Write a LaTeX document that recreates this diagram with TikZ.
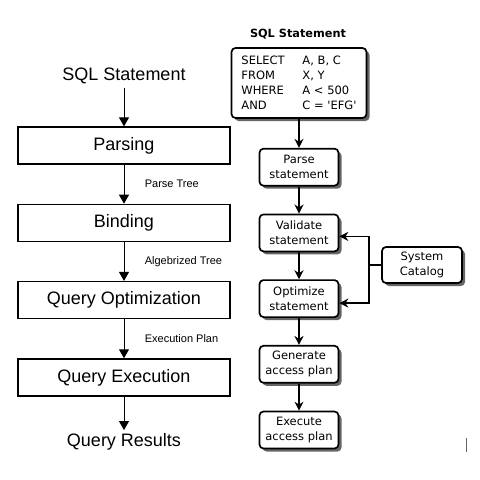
\documentclass[tikz,border=0pt]{standalone}
\usepackage{fontspec}
\setmainfont{Liberation Sans}
\newfontfamily\dvsans[Ligatures=TeXOff]{DejaVu Sans}
\usetikzlibrary{positioning,shadows,arrows.meta}

\begin{document}
\begin{tikzpicture}[x=1pt,y=-1pt,
	main node/.style = {draw, line width=1.3pt, minimum width=212pt, minimum height=37pt, inner sep=0pt, font=\fontsize{18}{21}\selectfont},
	big text/.style = {font=\fontsize{18}{21}\selectfont},
	lbl/.style = {right=17pt, font=\fontsize{11}{13}\selectfont},
	sq node/.style = {draw, line width=1.7pt, rounded corners=4pt, fill=white, minimum width=79pt, minimum height=37pt, inner sep=0pt, align=center, font=\dvsans\fontsize{11.5}{15}\selectfont,
		drop shadow={shadow xshift=3pt, shadow yshift=-3pt, fill=black!60, opacity=1}},
	larrow/.style = {line width=1pt, -{Triangle[width=10pt,length=9pt]}},
	rarrow/.style = {line width=1.8pt, -{Stealth[width=9pt,length=9pt]}}]

	\useasboundingbox (0,0) rectangle (480,480);

	% left: processing phases
	\node[big text] (s1) at (124,76) {SQL Statement};
	\node[main node] (1) at (124,145.5) {Parsing};
	\node[main node, below=39pt of 1] (2) {Binding};
	\node[main node, below=39pt of 2] (3) {Query Optimization};
	\node[main node, below=39pt of 3] (4) {Query Execution};
	\node[big text] (r1) at (124,442) {Query Results};

	\draw[larrow] (s1) -- (1);
	\draw[larrow] (1) -- node[lbl] {Parse Tree} (2);
	\draw[larrow] (2) -- node[lbl] {Algebrized Tree} (3);
	\draw[larrow] (3) -- node[lbl] {Execution Plan} (4);
	\draw[larrow] (4) -- (r1);

	% right: statement steps
	\node[font=\dvsans\bfseries\fontsize{11.3}{14}\selectfont] (h) at (298,34) {SQL Statement};
	\node[sq node, minimum width=135pt, minimum height=70pt, align=left] (sql) at (299,83)
		{\makebox[61pt][l]{SELECT}A, B, C\\
		 \makebox[61pt][l]{FROM}X, Y\\
		 \makebox[61pt][l]{WHERE}A < 500\\
		 \makebox[61pt][l]{AND}C = 'EFG'};
	\node[sq node, below=29pt of sql] (p) {Parse\\statement};
	\node[sq node, below=27pt of p] (v) {Validate\\statement};
	\node[sq node, below=27pt of v] (o) {Optimize\\statement};
	\node[sq node, below=27pt of o] (g) {Generate\\access plan};
	\node[sq node, below=27pt of g] (e) {Execute\\access plan};
	\node[sq node, minimum width=80pt, minimum height=36pt] (c) at (422,265) {System\\Catalog};
	\coordinate (j) at (369,265);

	\draw[rarrow] (sql) -- (p);
	\draw[rarrow] (p) -- (v);
	\draw[rarrow] (v) -- (o);
	\draw[rarrow] (o) -- (g);
	\draw[rarrow] (g) -- (e);
	\draw[line width=1.8pt] (c) -- (j);
	\draw[rarrow] (j) |- ([yshift=-3.5pt]v.east);
	\draw[rarrow] (j) |- ([yshift=-4.5pt]o.east);

	\draw[line width=0.8pt, black!60] (466,438) -- (466,452);

\end{tikzpicture}
\end{document}
